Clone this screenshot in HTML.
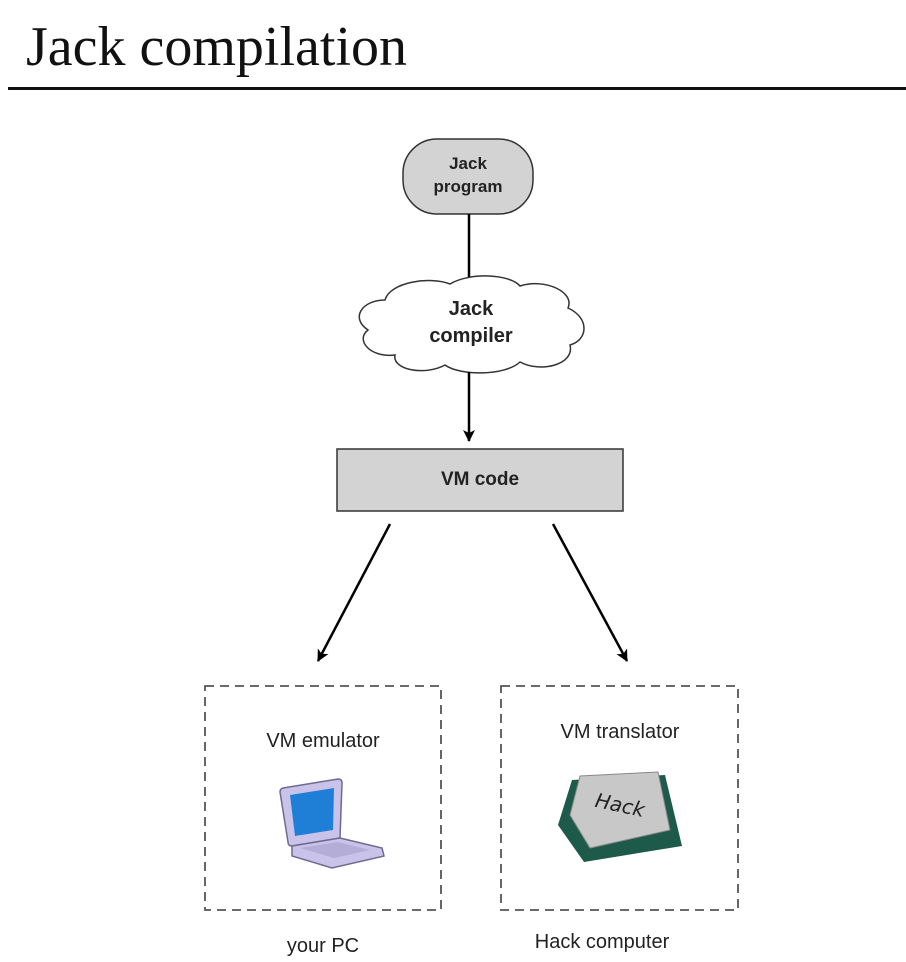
<!DOCTYPE html>
<html><head><meta charset="utf-8"><style>
html,body{margin:0;padding:0;background:#fff;}
svg{display:block;}
</style></head><body>
<svg width="906" height="962" viewBox="0 0 906 962" xmlns="http://www.w3.org/2000/svg">
<defs>
<marker id="ah" markerWidth="14" markerHeight="14" refX="11" refY="7" orient="auto" markerUnits="userSpaceOnUse">
<path d="M0,1 L12,7 L0,13 L3,7 z" fill="#000"/>
</marker>
</defs>
<text x="26" y="65" font-family="Liberation Serif, serif" font-size="56" fill="#111">Jack compilation</text>
<rect x="8" y="87" width="898" height="3" fill="#111"/>

<rect x="403" y="139" width="130" height="75" rx="34" fill="#d3d3d3" stroke="#333" stroke-width="1.5"/>
<text x="468" y="169" text-anchor="middle" font-family="Liberation Sans, sans-serif" font-weight="bold" font-size="17" fill="#222">Jack</text>
<text x="468" y="192" text-anchor="middle" font-family="Liberation Sans, sans-serif" font-weight="bold" font-size="17" fill="#222">program</text>
<line x1="469" y1="214" x2="469" y2="282" stroke="#000" stroke-width="2.5"/>

<path d="M385,300 C390,282 430,276 450,284 C470,272 510,274 520,286 C545,278 575,292 568,308 C590,318 588,340 570,345 C575,365 540,373 520,362 C505,376 460,376 445,365 C425,376 392,370 395,355 C370,358 355,340 368,330 C350,318 362,300 385,300 Z" fill="#fff" stroke="#333" stroke-width="1.5"/>
<text x="471" y="315" text-anchor="middle" font-family="Liberation Sans, sans-serif" font-weight="bold" font-size="20" fill="#222">Jack</text>
<text x="471" y="342" text-anchor="middle" font-family="Liberation Sans, sans-serif" font-weight="bold" font-size="20" fill="#222">compiler</text>
<line x1="469" y1="372" x2="469" y2="441" stroke="#000" stroke-width="2.5" marker-end="url(#ah)"/>

<rect x="337" y="449" width="286" height="62" fill="#d3d3d3" stroke="#333" stroke-width="1.5"/>
<text x="480" y="485" text-anchor="middle" font-family="Liberation Sans, sans-serif" font-weight="bold" font-size="19" fill="#222">VM code</text>

<line x1="390" y1="524" x2="318" y2="661" stroke="#000" stroke-width="2.5" marker-end="url(#ah)"/>
<line x1="553" y1="524" x2="627" y2="661" stroke="#000" stroke-width="2.5" marker-end="url(#ah)"/>

<rect x="205" y="686" width="236" height="224" fill="none" stroke="#555" stroke-width="1.8" stroke-dasharray="9,6"/>
<rect x="501" y="686" width="237" height="224" fill="none" stroke="#555" stroke-width="1.8" stroke-dasharray="9,6"/>
<text x="323" y="747" text-anchor="middle" font-family="Liberation Sans, sans-serif" font-size="20" fill="#222">VM emulator</text>
<text x="620" y="738" text-anchor="middle" font-family="Liberation Sans, sans-serif" font-size="20" fill="#222">VM translator</text>
<text x="323" y="952" text-anchor="middle" font-family="Liberation Sans, sans-serif" font-size="20" fill="#222">your PC</text>
<text x="602" y="948" text-anchor="middle" font-family="Liberation Sans, sans-serif" font-size="20" fill="#222">Hack computer</text>

<!-- laptop -->
<path d="M283,788 L338,779 Q342,779 342,783 L340,838 L292,846 Q288,846 288,842 L280,792 Q280,789 283,788 Z" fill="#c9c3ea" stroke="#6e6a90" stroke-width="1.5"/>
<path d="M290,795 L334,788 L333,830 L295,836 Z" fill="#1f7fd6"/>
<path d="M292,846 L340,838 L382,848 L384,856 L332,868 L292,856 Z" fill="#c9c3ea" stroke="#6e6a90" stroke-width="1.5"/>
<path d="M300,848 L338,842 L370,850 L334,858 Z" fill="#b3add8"/>

<!-- chip -->
<path d="M572,780 L665,775 L682,846 L584,862 L558,825 Z" fill="#1e5a4a"/>
<path d="M580,776 L658,772 L670,830 L590,848 L570,815 Z" fill="#c8c8c8" stroke="#888" stroke-width="1"/>
<text x="620" y="812" font-family="DejaVu Sans, sans-serif" font-style="italic" font-size="20" fill="#222" transform="rotate(12 620 805)" text-anchor="middle">Hack</text>
</svg>
</body></html>
